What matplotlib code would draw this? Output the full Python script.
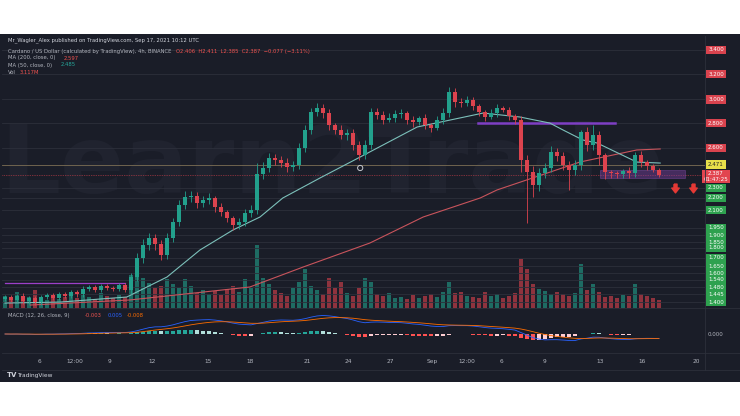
import numpy as np
import pandas as pd
import matplotlib
matplotlib.use('Agg')
import matplotlib.pyplot as plt
from matplotlib.patches import Rectangle
from matplotlib.path import Path
import matplotlib.transforms as mtransforms

# ── ADA/USD candles, Aug 2 -> Sep 17 2021 ──
open_first = 1.383
close = [
    1.399, 1.375, 1.407, 1.366, 1.391, 1.358, 1.399, 1.415, 1.391, 1.423,
    1.407, 1.439, 1.423, 1.464, 1.480, 1.456, 1.488, 1.472, 1.464, 1.496,
    1.456, 1.561, 1.715, 1.820, 1.877, 1.828, 1.739, 1.877, 2.006, 2.144,
    2.209, 2.217, 2.160, 2.184, 2.201, 2.128, 2.087, 2.039, 1.982, 2.006,
    2.079, 2.103, 2.395, 2.444, 2.525, 2.509, 2.484, 2.452, 2.468, 2.606,
    2.752, 2.897, 2.930, 2.889, 2.792, 2.752, 2.711, 2.727, 2.630, 2.549,
    2.630, 2.897, 2.873, 2.833, 2.849, 2.881, 2.889, 2.833, 2.816, 2.849,
    2.792, 2.768, 2.833, 2.889, 3.059, 2.978, 2.970, 2.995, 2.946, 2.897,
    2.857, 2.889, 2.930, 2.914, 2.865, 2.833, 2.509, 2.411, 2.306, 2.403,
    2.444, 2.573, 2.541, 2.468, 2.428, 2.468, 2.735, 2.630, 2.711, 2.549,
    2.411, 2.403, 2.395, 2.419, 2.403, 2.549, 2.492, 2.460, 2.428, 2.387,
]
up_wick = [
    .02, .015, .02, .025, .015, .02, .02, .015, .02, .02,
    .015, .02, .02, .025, .02, .015, .02, .02, .015, .02,
    .02, .03, .04, .05, .04, .03, .03, .04, .03, .04,
    .05, .04, .03, .03, .04, .02, .03, .02, .02, .03,
    .03, .04, .09, .05, .04, .03, .03, .04, .03, .04,
    .04, .03, .04, .03, .03, .02, .04, .03, .03, .03,
    .04, .03, .03, .03, .04, .03, .03, .02, .03, .02,
    .03, .02, .03, .04, .04, .03, .03, .03, .02, .02,
    .02, .03, .03, .02, .02, .02, .03, .04, .05, .04,
    .04, .05, .03, .03, .03, .04, .02, .04, .08, .03,
    .02, .02, .02, .02, .03, .025, .03, .02, .02, .015,
]
low_wick = [
    .02, .02, .015, .02, .02, .025, .02, .015, .02, .015,
    .02, .015, .02, .02, .015, .02, .015, .02, .02, .015,
    .02, .03, .03, .04, .04, .05, .04, .03, .03, .03,
    .03, .04, .04, .03, .03, .04, .03, .03, .04, .03,
    .03, .03, .03, .04, .03, .04, .03, .04, .03, .03,
    .03, .03, .03, .04, .04, .03, .03, .04, .04, .04,
    .03, .03, .03, .03, .02, .03, .03, .03, .04, .02,
    .03, .03, .02, .03, .03, .04, .03, .02, .03, .03,
    .03, .02, .03, .02, .03, .03, .10, .41, .10, .05,
    .04, .03, .04, .04, .16, .04, .04, .05, .04, .08,
    .06, .04, .03, .03, .04, .03, .04, .03, .02, .02,
]
volume = [  # millions
    60, 50, 80, 45, 55, 90, 50, 40, 60, 45,
    55, 70, 50, 65, 55, 45, 75, 60, 50, 65,
    55, 165, 195, 150, 125, 100, 110, 145, 120, 100,
    145, 110, 75, 90, 70, 85, 65, 95, 110, 80,
    145, 100, 315, 150, 120, 90, 75, 60, 100, 130,
    195, 110, 90, 70, 150, 100, 130, 75, 60, 100,
    150, 130, 70, 60, 75, 50, 55, 45, 65, 50,
    60, 70, 55, 80, 130, 75, 80, 60, 55, 50,
    80, 60, 70, 50, 60, 75, 245, 195, 120, 95,
    85, 70, 80, 70, 60, 75, 220, 90, 120, 80,
    55, 60, 50, 65, 60, 120, 70, 60, 50, 40,
]

# moving averages as drawn (bar index, price)
ma50_idx = [0, 9.2, 20.3, 27, 32.5, 38, 42.5, 46.3, 52.5, 59.2, 68.7, 79.7, 85.8, 90.8, 93, 96.3, 98.7, 105.3, 109.2]
ma50_val = [1.350, 1.358, 1.399, 1.561, 1.780, 1.942, 2.047, 2.201, 2.363, 2.533, 2.776, 2.889, 2.857, 2.808, 2.752, 2.671, 2.646, 2.492, 2.484]
ma200_idx = [4.2, 20.8, 40.8, 49.7, 60.8, 69.7, 79.2, 82, 95.8, 105.3, 109.2]
ma200_val = [1.334, 1.375, 1.480, 1.642, 1.836, 2.047, 2.201, 2.266, 2.492, 2.590, 2.598]

# right-hand price labels
lab_up = ['3.400', '3.200', '3.000', '2.800', '2.600']
lab_up_val = [3.400, 3.205, 3.000, 2.808, 2.606]
lab_dn = ['2.300', '2.200', '2.100', '1.950', '1.900', '1.850', '1.800', '1.700',
          '1.650', '1.600', '1.540', '1.480', '1.445', '1.400']
lab_dn_val = [2.282, 2.201, 2.103, 1.958, 1.901, 1.844, 1.796, 1.715,
              1.650, 1.593, 1.537, 1.480, 1.423, 1.358]

tick_pos = [5.8, 11.7, 17.5, 24.5, 33.8, 40.8, 50.3, 57.2, 64.3, 71.2, 77, 82.8, 90, 99.2, 106.2, 115.3]
tick_lab = ['6', '12:00', '9', '12', '15', '18', '21', '24', '27', 'Sep', '12:00', '6', '9', '13', '16', '20']

# ── style ───────────────────────────────────────────────────────────
BG = '#1a1d28'
GRID = '#2c303b'
TXT = '#b2b5be'
UP, DN = '#22a08c', '#dc434e'
W, H = 740, 416


def box(x0, y0, x1, y1):
    return [x0 / W, 1 - y1 / H, (x1 - x0) / W, (y1 - y0) / H]


fig = plt.figure(figsize=(7.4, 4.16), dpi=100, facecolor='white')
bg = fig.add_axes(box(0, 34, 740, 382))
bg.set_facecolor(BG)
bg.set_xticks([]); bg.set_yticks([])
for s in bg.spines.values():
    s.set_visible(False)

ax = fig.add_axes(box(2, 36, 705, 308))
vax = ax.twinx()
mx = fig.add_axes(box(2, 309, 705, 353))
tx = fig.add_axes(box(2, 353, 705, 370))
for a in (ax, vax, mx, tx):
    a.set_facecolor('none')
    for s in a.spines.values():
        s.set_visible(False)
    a.tick_params(length=0, labelleft=False, labelright=False, labelbottom=False)
    a.set_xlim(-0.5, 116.67)

x = np.arange(len(close))
c = np.array(close)
o = np.r_[open_first, c[:-1]]
hi = np.maximum(o, c) + np.array(up_wick)
lo = np.minimum(o, c) - np.array(low_wick)
col = np.where(c >= o, UP, DN)

ax.set_ylim(1.310, 3.513)
ax.set_zorder(vax.get_zorder() + 1)

# watermark
ax.text(0.47, 0.52, 'Learn2Trade', transform=ax.transAxes, ha='center', va='center',
        fontsize=68, fontweight='bold', color='#20232f', zorder=0)

# drawn horizontal levels
for v in lab_up_val + lab_dn_val:
    ax.axhline(v, color=GRID, lw=0.6, zorder=1)
ax.axhline(2.471, color='#7d6f55', lw=0.6, zorder=1)
ax.axhline(close[-1], color=DN, lw=0.5, ls=(0, (1, 1.5)), zorder=1)

# user drawings
ax.plot([78.8, 101.7], [2.808, 2.808], color='#7e3fc4', lw=1.8, zorder=2)
ax.plot([0, 20], [1.512, 1.512], color='#9c3fc8', lw=0.9, zorder=2)
ax.add_patch(Rectangle((99.2, 2.363), 14.1, 0.065, facecolor='#7b3fa0', alpha=0.45,
                       edgecolor='#9a5ac8', lw=0.5, zorder=2))

# moving averages
ax.plot(ma200_idx, ma200_val, color='#c9545c', lw=0.8, zorder=3)
ax.plot(ma50_idx, ma50_val, color='#7cc0ba', lw=0.8, zorder=3)

# candles
ax.vlines(x, lo, hi, colors=col, lw=0.6, zorder=4)
ax.bar(x, np.maximum(np.abs(c - o), 0.006), bottom=np.minimum(o, c), width=0.72,
       color=col, zorder=5)

# markers
arrow = Path([(-0.35, 1), (0.35, 1), (0.35, 0.1), (0.85, 0.1), (0, -1), (-0.85, 0.1), (-0.35, 0.1), (-0.35, 1)])
ax.scatter([111.7, 114.7], [2.282, 2.282], marker=arrow, s=40, color='#e53935', zorder=6)
ax.scatter([59.2], [2.444], marker='o', s=14, facecolor='none', edgecolor='#c8cad0', lw=0.7, zorder=6)

# volume
vax.bar(x, volume, width=0.68, color=col, alpha=0.6, linewidth=0)
vax.set_ylim(0, 1360)

# right price labels
tr = mtransforms.blended_transform_factory(ax.transAxes, ax.transData)
lx = (716 - 2) / 703
for t, v in zip(lab_up, lab_up_val):
    ax.text(lx, v, t, transform=tr, ha='center', va='center', fontsize=4, color='white',
            bbox=dict(boxstyle='square,pad=0.3', fc='#d9434e', ec='none'), clip_on=False)
for t, v in zip(lab_dn, lab_dn_val):
    ax.text(lx, v, t, transform=tr, ha='center', va='center', fontsize=4, color='white',
            bbox=dict(boxstyle='square,pad=0.3', fc='#2ea14f', ec='none'), clip_on=False)
ax.text(lx, 2.471, '2.471', transform=tr, ha='center', va='center', fontsize=4, color='#222',
        bbox=dict(boxstyle='square,pad=0.3', fc='#e6df4a', ec='none'), clip_on=False)
ax.text(lx, close[-1] - 0.012, '2.387\n01:47:25', transform=tr, ha='center', va='center',
        fontsize=4, color='white', linespacing=1.1,
        bbox=dict(boxstyle='square,pad=0.3', fc='#e2454f', ec='none'), clip_on=False)

# MACD (12, 26, close, 9)
s = pd.Series(close)
macd = s.ewm(span=12, adjust=False).mean() - s.ewm(span=26, adjust=False).mean()
sig = macd.ewm(span=9, adjust=False).mean()
hist = (macd - sig).values
dh = np.r_[0, np.diff(hist)]
hcol = np.where(hist >= 0, np.where(dh >= 0, '#26a69a', '#b2dfdb'),
                np.where(dh <= 0, '#ff5252', '#ffcdd2'))
mx.bar(x, hist, width=0.8, color=hcol)
mx.plot(x, macd, color='#2962ff', lw=0.6)
mx.plot(x, sig, color='#ff6d00', lw=0.6)
top = 1.35 * max(macd.max(), sig.max())
mx.set_ylim(-top * 19 / 25, top)
mx.text((716 - 2) / 703, 0, '0.000', transform=mtransforms.blended_transform_factory(mx.transAxes, mx.transData),
        ha='center', va='center', fontsize=4, color=TXT, clip_on=False)
mx.text(0.008, 0.86, 'MACD (12, 26, close, 9)', transform=mx.transAxes, fontsize=3.8, color=TXT, va='center')
mx.text(0.118, 0.86, '-0.003', transform=mx.transAxes, fontsize=3.8, color='#ef5350', va='center')
mx.text(0.150, 0.86, '0.005', transform=mx.transAxes, fontsize=3.8, color='#2962ff', va='center')
mx.text(0.178, 0.86, '-0.008', transform=mx.transAxes, fontsize=3.8, color='#ff6d00', va='center')

# time axis
tx.set_xticks(tick_pos)
tx.set_xticklabels(tick_lab)
tx.tick_params(labelbottom=True, colors=TXT, labelsize=4.2, pad=-8)
tx.set_yticks([])

# panel separators
for yy in (308, 353, 370):
    fig.add_artist(plt.Line2D([2 / W, 740 / W], [1 - yy / H, 1 - yy / H], color=GRID, lw=0.6))
fig.add_artist(plt.Line2D([705 / W, 705 / W], [1 - 36 / H, 1 - 370 / H], color=GRID, lw=0.6))

# header
fig.text(8 / W, 1 - 40.5 / H, 'Mr_Wagler_Alex published on TradingView.com, Sep 17, 2021 10:12 UTC',
         fontsize=3.8, color='#d1d4dc', va='center')
fig.text(8 / W, 1 - 51 / H, 'Cardano / US Dollar (calculated by TradingView), 4h, BINANCE',
         fontsize=3.8, color=TXT, va='center')
fig.text(176 / W, 1 - 51 / H, 'O2.406  H2.411  L2.385  C2.387  \u22120.077 (\u22123.11%)',
         fontsize=3.8, color='#ef5350', va='center')
fig.text(8 / W, 1 - 58 / H, 'MA (200, close, 0)', fontsize=3.8, color=TXT, va='center')
fig.text(64 / W, 1 - 58 / H, '2.597', fontsize=3.8, color='#ef5350', va='center')
fig.text(8 / W, 1 - 65 / H, 'MA (50, close, 0)', fontsize=3.8, color=TXT, va='center')
fig.text(61 / W, 1 - 65 / H, '2.485', fontsize=3.8, color='#26a69a', va='center')
fig.text(8 / W, 1 - 72 / H, 'Vol', fontsize=3.8, color=TXT, va='center')
fig.text(20 / W, 1 - 72 / H, '3.117M', fontsize=3.8, color='#ef5350', va='center')

# footer logo
fig.text(7 / W, 1 - 375 / H, 'TV', fontsize=5, color='#d1d4dc', fontweight='bold', va='center')
fig.text(17 / W, 1 - 375 / H, 'TradingView', fontsize=4.2, color='#d1d4dc', va='center')

fig.savefig('out.png', dpi=100, facecolor='white')
